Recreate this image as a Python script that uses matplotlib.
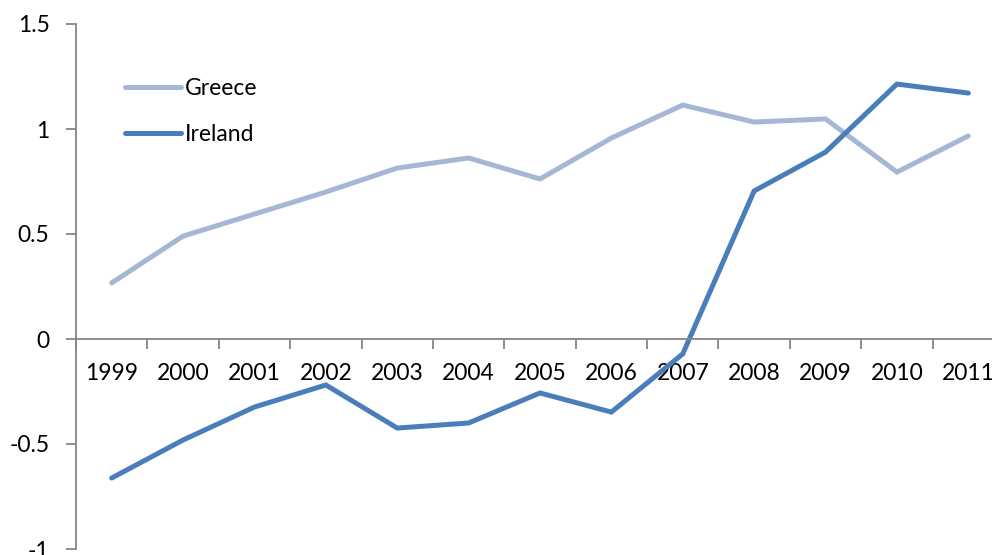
import numpy as np
import matplotlib.pyplot as plt

plt.rcParams['font.family'] = ['Lato', 'DejaVu Sans']

years = ['1999', '2000', '2001', '2002', '2003', '2004', '2005',
         '2006', '2007', '2008', '2009', '2010', '2011']
greece = [0.267, 0.49, 0.595, 0.70, 0.814, 0.862, 0.762,
          0.957, 1.114, 1.033, 1.048, 0.795, 0.967]
ireland = [-0.662, -0.481, -0.324, -0.219, -0.424, -0.40, -0.257,
           -0.348, -0.071, 0.705, 0.89, 1.214, 1.171]

axis_gray = '#868686'
fsize = 16.5

fig = plt.figure(figsize=(9.92, 5.55), dpi=100)
ax = fig.add_axes([76 / 992, 6 / 555, 928 / 992, 525 / 555])

x = np.arange(len(years))
ax.plot(x, greece, color='#A5B7D5', lw=3.6, solid_capstyle='round',
        solid_joinstyle='miter', label='Greece')
ax.plot(x, ireland, color='#4A7EBB', lw=3.6, solid_capstyle='round',
        solid_joinstyle='miter', label='Ireland')

ax.set_xlim(-0.5, len(years) - 0.5)
ax.set_ylim(-1, 1.5)
ax.set_yticks([-1, -0.5, 0, 0.5, 1, 1.5])
ax.set_yticklabels(['-1', '-0.5', '0', '0.5', '1', '1.5'])

# category boundaries get the tick marks, centres get the labels
ax.set_xticks(np.arange(len(years) + 1) - 0.5)
ax.set_xticklabels([])
ax.set_xticks(x, minor=True)
ax.set_xticklabels(years, minor=True)
ax.tick_params(axis='x', which='major', direction='out', length=7,
               color=axis_gray, width=1.3)
ax.tick_params(axis='x', which='minor', length=0, pad=17, labelsize=fsize)
ax.tick_params(axis='y', direction='out', length=7, color=axis_gray,
               width=1.3, labelsize=fsize, pad=12)

for side in ['top', 'right']:
    ax.spines[side].set_visible(False)
ax.spines['bottom'].set_position(('data', 0))
for side in ['left', 'bottom']:
    ax.spines[side].set_color(axis_gray)
    ax.spines[side].set_linewidth(1.3)

ax.legend(loc='upper left', bbox_to_anchor=(0.053, 0.898), frameon=False,
          fontsize=fsize, handlelength=2.45, handletextpad=0.15,
          labelspacing=1.1, borderaxespad=0, borderpad=0)

fig.savefig('out.png', dpi=100)
